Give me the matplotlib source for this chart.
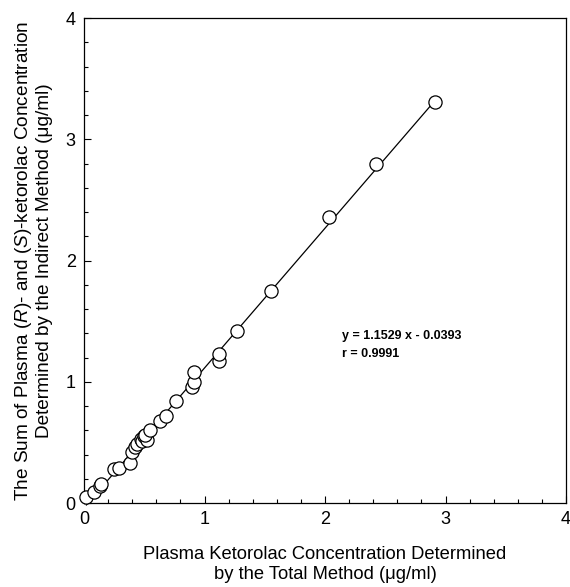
import matplotlib
matplotlib.use("Agg")
import matplotlib.pyplot as plt
from matplotlib.ticker import MultipleLocator
import numpy as np

plt.rcParams['font.family'] = ['Liberation Sans', 'DejaVu Sans']
plt.rcParams['mathtext.fontset'] = 'custom'
plt.rcParams['mathtext.rm'] = 'Liberation Sans'
plt.rcParams['mathtext.it'] = 'Liberation Sans:italic'

# total method (x) vs sum of enantiomers by indirect method (y), ug/ml
total = [0.02, 0.08, 0.13, 0.14, 0.25, 0.29, 0.38, 0.40, 0.42, 0.44, 0.47,
         0.48, 0.50, 0.52, 0.51, 0.55, 0.63, 0.68, 0.76, 0.90, 0.91, 0.91,
         1.12, 1.12, 1.27, 1.55, 2.03, 2.42, 2.91]
indirect = [0.05, 0.09, 0.14, 0.16, 0.28, 0.29, 0.33, 0.42, 0.46, 0.49, 0.53,
            0.51, 0.55, 0.52, 0.56, 0.60, 0.68, 0.72, 0.84, 0.96, 1.00, 1.08,
            1.17, 1.23, 1.42, 1.75, 2.36, 2.80, 3.31]
slope = 1.1529
intercept = -0.0393
r_value = 0.9991

fig = plt.figure(figsize=(5.7, 5.87), dpi=100)
ax = fig.add_axes([0.1474, 0.1431, 0.8456, 0.8262])

xx = np.array([min(total), max(total)])
ax.plot(xx, slope * xx + intercept, color='black', lw=0.9, zorder=1, clip_on=False)
ax.plot(total, indirect, 'o', ms=9.5, mfc='white', mec='black', mew=0.9,
        zorder=3, clip_on=False)

ax.set_xlim(0, 4)
ax.set_ylim(0, 4)
ax.xaxis.set_major_locator(MultipleLocator(1))
ax.yaxis.set_major_locator(MultipleLocator(1))
ax.xaxis.set_minor_locator(MultipleLocator(0.2))
ax.yaxis.set_minor_locator(MultipleLocator(0.2))
ax.tick_params(which='both', direction='in', width=0.8)
ax.tick_params(which='major', length=5, labelsize=13, pad=6)
ax.tick_params(which='minor', length=3)
for s in ax.spines.values():
    s.set_linewidth(0.9)

ax.set_xlabel('Plasma Ketorolac Concentration Determined\nby the Total Method (\u03bcg/ml)',
              fontsize=13.2, labelpad=13, linespacing=1.2)
ax.set_ylabel('The Sum of Plasma ($R$)- and ($S$)-ketorolac Concentration\n'
              'Determined by the Indirect Method (\u03bcg/ml)',
              fontsize=13.7, labelpad=9, linespacing=1.15)

ax.text(2.14, 1.38, 'y = %.4f x - %.4f' % (slope, -intercept),
        fontsize=9, fontweight='bold', va='center')
ax.text(2.14, 1.23, 'r = %.4f' % r_value,
        fontsize=9, fontweight='bold', va='center')

fig.savefig('out.png', dpi=100)
